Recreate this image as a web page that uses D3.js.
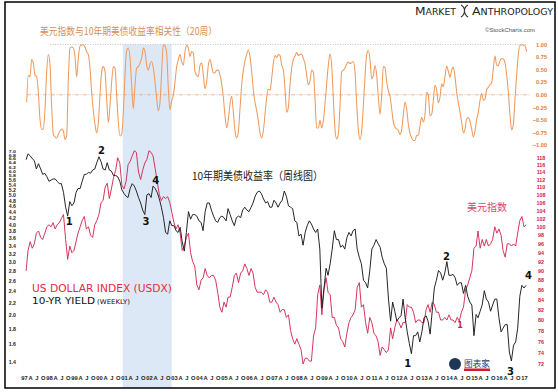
<!DOCTYPE html>
<html><head><meta charset="utf-8">
<script src="https://cdn.jsdelivr.net/npm/d3@7"></script>
<style>body{margin:0;background:#fff}svg{display:block}</style>
</head><body><svg id="c" width="558" height="392"></svg>
<script>
// ---------- DATA ----------
// 20-week correlation (USDX vs 10-yr yield), evenly spaced samples
const corrStart = "1997-02-09";
const corrStepDays = 24.35;
const corrValues = [
 -0.15,0.39,0.36,0.70,0.63,0.39,0.36,0.05,-0.49,-0.69,
 -0.68,-0.28,0.46,0.80,0.59,-0.22,-0.79,-0.84,-0.86,-0.79,
 -0.72,-0.68,-0.72,-0.89,-0.82,0.32,0.93,0.95,0.93,0.76,
 0.36,0.73,0.97,0.99,0.99,0.95,0.85,0.80,0.53,0.05,
 -0.32,-0.59,-0.76,-0.55,-0.01,0.46,0.56,0.46,-0.08,-0.55,
 -0.22,0.26,0.56,0.53,-0.01,-0.55,-0.82,-0.79,-0.35,0.39,
 0.88,0.93,0.73,0.19,-0.28,0.19,0.53,0.56,0.63,0.73,
 0.93,0.86,0.59,0.49,0.61,0.66,0.53,0.26,-0.08,-0.32,
 -0.15,0.46,1.00,0.97,0.83,0.12,-0.30,-0.11,-0.01,0.26,
 0.56,0.70,0.80,0.66,0.59,0.86,0.99,0.93,0.76,0.86,
 0.83,0.46,0.39,0.36,0.59,0.63,0.39,0.12,0.26,0.59,
 0.70,0.56,0.43,0.44,0.49,0.49,0.39,0.22,-0.05,-0.42,
 -0.66,-0.49,-0.18,-0.03,-0.35,-0.72,-0.86,-0.74,-0.28,0.19,
 0.49,0.68,0.81,0.89,0.76,0.46,0.09,-0.15,-0.32,-0.52,
 -0.76,-0.86,-0.72,-0.39,-0.05,0.11,0.09,0.32,0.63,0.78,
 0.74,0.80,0.78,0.59,0.49,0.12,-0.35,-0.25,0.19,0.53,
 0.70,0.77,0.84,0.78,0.80,0.81,0.72,0.62,0.39,0.20,
 0.27,0.49,0.46,-0.08,-0.66,-0.66,-0.51,-0.66,-0.52,-0.18,
 0.22,0.59,0.81,0.59,-0.08,-0.69,-0.88,-0.79,-0.22,0.46,
 0.49,0.53,0.61,0.65,0.62,0.64,0.66,0.46,-0.18,-0.69,
 -0.89,-0.72,-0.22,0.36,0.80,0.88,0.70,0.32,0.39,0.58,
 0.39,-0.05,-0.39,-0.01,0.56,0.54,0.26,0.08,-0.03,-0.28,
 -0.55,-0.64,-0.68,-0.71,-0.79,-0.70,-0.39,-0.15,-0.28,-0.59,
 -0.77,-0.86,-0.91,-0.91,-0.81,-0.80,-0.62,-0.45,-0.54,-0.39,
 0.05,-0.01,-0.42,-0.39,-0.12,0.19,0.09,-0.16,-0.05,0.22,
 0.16,0.36,0.57,0.47,0.35,0.49,0.55,0.36,0.05,-0.16,
 -0.34,-0.54,-0.76,-0.69,-0.47,-0.46,-0.53,-0.68,-0.84,-0.72,
 -0.49,-0.34,-0.12,0.03,-0.11,-0.09,0.11,0.15,0.20,0.24,
 0.53,0.77,0.59,0.58,0.68,0.72,0.71,0.64,0.39,0.05,
 -0.41,-0.70,-0.59,-0.08,0.39,0.80,0.99,0.99,0.99,0.97,
 0.86
];

// Monthly series, Feb 1997 .. Feb 2017
const monthlyStart = "1997-02-01";
const yieldValues = [
 6.55,6.85,6.75,6.60,6.50,6.10,6.35,6.10,5.85,5.90,5.75,
 5.55,5.60,5.65,5.65,5.55,5.45,5.45,5.10,4.55,4.25,4.75,4.60,
 4.70,5.10,5.25,5.25,5.55,5.85,5.85,5.95,5.90,6.05,6.10,6.40,
 6.70,6.45,6.10,6.05,6.40,6.05,6.00,5.80,5.80,5.75,5.55,5.20,
 5.05,4.95,4.90,5.25,5.45,5.35,5.15,4.90,4.70,4.45,4.30,5.00,
 5.05,4.90,5.35,5.25,5.10,4.85,4.55,4.20,3.75,3.70,4.10,3.95,
 3.95,3.80,3.75,3.90,3.50,3.25,3.75,4.40,4.15,4.30,4.30,4.25,
 4.10,4.05,3.80,4.40,4.70,4.70,4.45,4.25,4.10,4.05,4.20,4.25,
 4.20,4.10,4.50,4.30,4.10,3.95,4.20,4.25,4.20,4.45,4.55,4.45,
 4.40,4.55,4.70,4.95,5.10,5.15,5.05,4.85,4.70,4.75,4.55,4.55,
 4.80,4.70,4.55,4.70,4.80,5.15,4.95,4.60,4.55,4.50,4.10,4.05,
 3.65,3.70,3.40,3.75,3.95,4.10,4.00,3.85,3.75,3.85,3.30,2.10,
 2.45,2.85,2.70,2.95,3.30,3.80,3.55,3.55,3.35,3.40,3.30,3.60,
 3.75,3.65,3.80,3.85,3.30,3.10,2.95,2.60,2.55,2.45,2.80,3.30,
 3.40,3.55,3.45,3.35,3.10,2.95,2.85,2.25,1.90,2.20,2.05,1.90,
 1.95,1.98,2.25,1.95,1.75,1.60,1.48,1.70,1.70,1.75,1.62,1.75,
 1.95,1.98,1.90,1.72,2.05,2.45,2.60,2.80,2.75,2.60,2.75,3.00,
 2.70,2.70,2.72,2.65,2.50,2.55,2.55,2.35,2.50,2.30,2.20,2.15,
 1.70,2.00,1.95,2.05,2.15,2.40,2.25,2.20,2.05,2.15,2.25,2.25,
 1.95,1.75,1.80,1.85,1.85,1.50,1.40,1.58,1.62,1.80,2.30,2.50,
 2.45,2.50
];
const dxyValues = [
 90.0,94.5,96.5,95.0,96.0,98.5,99.0,97.5,97.0,98.5,100.0,
 100.5,100.0,101.0,99.5,100.5,101.0,102.0,103.0,97.0,92.5,95.5,94.0,
 94.5,96.5,98.5,100.0,101.5,102.5,99.5,100.0,98.0,97.5,100.5,101.5,
 103.0,106.0,106.5,110.0,111.0,107.0,109.5,112.5,114.5,118.0,116.5,110.5,
 109.5,111.5,116.0,117.0,118.5,120.0,119.5,114.0,112.0,114.5,116.5,117.5,
 120.0,119.5,118.5,115.0,111.5,108.0,106.5,107.5,107.0,107.5,106.0,103.5,
 101.0,99.5,100.5,98.5,94.5,95.5,97.5,98.5,94.0,92.0,91.0,87.0,
 86.0,88.0,88.5,90.5,89.0,88.5,89.0,89.0,88.0,85.5,82.5,81.5,
 83.5,82.5,84.5,84.5,86.5,89.0,89.5,87.5,89.5,90.0,91.5,90.5,
 89.0,90.5,89.5,86.5,85.5,85.5,85.5,85.0,86.0,85.5,83.5,83.5,
 84.5,83.5,83.0,81.5,82.0,82.0,80.5,81.0,78.0,76.5,75.5,76.5,
 75.5,74.5,72.0,73.0,73.0,72.5,72.5,77.0,78.5,85.0,87.0,81.0,
 86.0,88.5,85.5,85.0,80.5,80.5,79.0,78.5,76.5,76.0,75.0,77.5,
 79.5,80.5,81.0,82.0,86.5,87.5,82.5,83.0,79.5,77.5,80.5,79.5,
 77.5,77.0,76.0,73.5,75.0,74.5,74.0,74.5,78.5,76.5,78.5,80.0,
 79.5,78.5,79.5,79.5,83.0,82.5,82.5,81.5,79.5,80.0,80.0,79.5,
 79.5,82.0,83.0,81.5,83.5,83.0,81.5,81.5,80.0,80.0,80.5,80.0,
 81.0,80.0,80.0,79.5,80.5,79.8,81.5,82.5,86.0,87.0,88.5,90.0,
 95.0,95.5,99.0,95.0,97.0,95.5,97.0,95.5,96.0,97.0,100.0,98.5,
 99.5,98.0,94.5,93.0,96.0,96.0,95.5,96.0,95.5,98.5,101.5,102.5,
 100.0,100.5
];

const corrTicks = [1.00,0.75,0.50,0.25,0.00,-0.25,-0.50,-0.75,-1.00];
const yieldTicks = [7.0,6.8,6.6,6.4,6.2,6.0,5.8,5.6,5.4,5.2,5.0,4.8,4.6,4.4,4.2,4.0,3.8,3.6,3.4,3.2,3.0,2.8,2.6,2.4,2.2,2.0,1.8,1.6,1.4];
const dxyTicks = [118,116,114,112,110,108,106,104,102,100,98,96,94,92,90,88,86,84,82,80,78,76,74,72];
const shadeRange = ["2000-12-15","2002-11-28"];
const waveLabels = [
 {date:"1998-10-23", value:4.08, text:"1"},
 {date:"2000-02-06", value:7.05, text:"2"},
 {date:"2001-11-17", value:4.09, text:"3"},
 {date:"2002-04-08", value:5.59, text:"4"},
 {date:"2012-05-08", value:1.37, text:"1"},
 {date:"2013-11-24", value:3.12, text:"2"},
 {date:"2016-06-17", value:1.297, text:"3"},
 {date:"2017-03-07", value:2.70, text:"4"}
];
const dxyWaveLabels = [{date:"2014-06-10", value:79.06, text:"1"}];

// ---------- CHART ----------
const svg = d3.select("#c");
const W = 558, H = 392;
const parse = d3.timeParse("%Y-%m-%d");
const x = d3.scaleTime().domain([parse("1997-01-01"), parse("2017-01-01")]).range([24, 524]);
const yCorr = d3.scaleLinear().domain([-1, 1]).range([145, 44.5]);
const yYield = d3.scaleLog().domain([1.4, 7.0]).range([361, 151]);
const yDxy = d3.scaleLog().domain([72, 118]).range([364, 157.7]);

const corrData = corrValues.map((v, i) => ({d: new Date(parse(corrStart).getTime() + i * corrStepDays * 864e5), v}));
const m0 = parse(monthlyStart);
const yieldData = yieldValues.map((v, i) => ({d: d3.timeMonth.offset(m0, i), v}));
const dxyData = dxyValues.map((v, i) => ({d: d3.timeMonth.offset(m0, i), v}));

svg.append("rect").attr("width", W).attr("height", H).attr("fill", "#fff");

// shaded period
svg.append("rect")
  .attr("x", x(parse(shadeRange[0]))).attr("y", 44.5)
  .attr("width", x(parse(shadeRange[1])) - x(parse(shadeRange[0])))
  .attr("height", 388 - 44.5)
  .attr("fill", "#dde8f6");

// top panel reference lines
svg.append("line").attr("x1", 50).attr("x2", 527).attr("y1", yCorr(1)).attr("y2", yCorr(1))
  .attr("stroke", "#b0b0b0").attr("stroke-width", 0.7).attr("stroke-dasharray", "1,1.5");
svg.append("line").attr("x1", 27).attr("x2", 530).attr("y1", yCorr(0)).attr("y2", yCorr(0))
  .attr("stroke", "#ec9a62").attr("stroke-width", 0.7).attr("stroke-dasharray", "4,1.5,1,1.5");

// correlation line
svg.append("path").datum(corrData)
  .attr("d", d3.line().x(d => x(d.d)).y(d => yCorr(d.v)).curve(d3.curveMonotoneX))
  .attr("fill", "none").attr("stroke", "#f09a5c").attr("stroke-width", 1.05);

// dollar index
svg.append("path").datum(dxyData)
  .attr("d", d3.line().x(d => x(d.d)).y(d => yDxy(d.v)))
  .attr("fill", "none").attr("stroke", "#d42a55").attr("stroke-width", 0.95);
// yield
svg.append("path").datum(yieldData)
  .attr("d", d3.line().x(d => x(d.d)).y(d => yYield(d.v)))
  .attr("fill", "none").attr("stroke", "#1a1a1a").attr("stroke-width", 0.95);

// axes
const fontAx = "'Liberation Sans', Arial, sans-serif";
function styleAxis(g, color, size) {
  g.select(".domain").remove();
  g.selectAll(".tick line").remove();
  g.selectAll("text").attr("fill", color).attr("font-size", size)
    .attr("font-family", fontAx).attr("font-weight", "bold");
}
const gCorr = svg.append("g").attr("transform", "translate(547,0)")
  .call(d3.axisLeft(yCorr).tickValues(corrTicks).tickFormat(d3.format(".2f")).tickSize(0).tickPadding(0));
styleAxis(gCorr, "#e07b3c", 5.6);
gCorr.selectAll("text").attr("text-anchor", "end").attr("x", 0);

const gY = svg.append("g").attr("transform", "translate(16,0)")
  .call(d3.axisLeft(yYield).tickValues(yieldTicks).tickFormat(d3.format(".1f")).tickSize(0).tickPadding(0));
styleAxis(gY, "#222", 5.2);
// labels are squeezed vertically where the log scale packs them together
gY.selectAll(".tick text").each(function(d, i) {
  const nb = i < yieldTicks.length - 1 ? yieldTicks[i + 1] : yieldTicks[i - 1];
  const gap = Math.abs(yYield(d) - yYield(nb));
  const k = Math.min(1, (gap - 0.2) / 5.2);
  d3.select(this).attr("y", 0).attr("dy", null).attr("transform", `scale(1,${k})`)
    .attr("dominant-baseline", "central");
});

const gD = svg.append("g").attr("transform", "translate(541,0)")
  .call(d3.axisRight(yDxy).tickValues(dxyTicks).tickFormat(d3.format("d")).tickSize(0).tickPadding(0));
styleAxis(gD, "#d0203c", 5.4);
gD.selectAll("text").attr("text-anchor", "middle").attr("x", 0);

const qTicks = d3.timeMonth.every(3).range(parse("1997-01-01"), parse("2017-01-02"));
const qFmt = d => { const m = d.getMonth(); return m === 0 ? d3.timeFormat("%y")(d) : (m === 3 ? "A" : m === 6 ? "J" : "O"); };
const gX = svg.append("g").attr("transform", "translate(0,376)")
  .call(d3.axisBottom(x).tickValues(qTicks).tickFormat(qFmt).tickSize(0).tickPadding(0));
styleAxis(gX, "#222", 5.8);
gX.selectAll("text").attr("dy", "0.71em");

// wave labels
svg.append("g").selectAll("text").data(waveLabels).join("text")
  .attr("x", d => x(parse(d.date))).attr("y", d => yYield(d.value))
  .attr("dy", "0.36em").attr("text-anchor", "middle")
  .attr("font-family", "'DejaVu Sans', sans-serif").attr("font-weight", "bold")
  .attr("font-size", 10).attr("fill", "#111").text(d => d.text);
svg.append("g").selectAll("text").data(dxyWaveLabels).join("text")
  .attr("x", d => x(parse(d.date))).attr("y", d => yDxy(d.value))
  .attr("dy", "0.36em").attr("text-anchor", "middle")
  .attr("font-family", "'DejaVu Sans', sans-serif").attr("font-weight", "bold")
  .attr("font-size", 8).attr("fill", "#d0203c").text(d => d.text);

// texts
const cjk = "'Noto Sans CJK SC', sans-serif";
svg.append("text").attr("x", 40).attr("y", 34.5).attr("font-family", cjk).attr("font-size", 10)
  .attr("fill", "#d98e58").attr("textLength", 177).attr("lengthAdjust", "spacingAndGlyphs")
  .text("美元指数与10年期美债收益率相关性（20周）");
svg.append("text").attr("x", 192).attr("y", 180).attr("font-family", cjk).attr("font-size", 11)
  .attr("fill", "#222").attr("textLength", 131).attr("lengthAdjust", "spacingAndGlyphs")
  .text("10年期美债收益率（周线图）");
svg.append("text").attr("x", 467).attr("y", 211).attr("font-family", cjk).attr("font-size", 10)
  .attr("fill", "#d4486a").attr("textLength", 40).attr("lengthAdjust", "spacingAndGlyphs")
  .text("美元指数");
svg.append("text").attr("x", 32).attr("y", 292).attr("font-family", "'DejaVu Sans', sans-serif").attr("font-size", 10.5)
  .attr("fill", "#e8283c").attr("textLength", 140).attr("lengthAdjust", "spacingAndGlyphs")
  .text("US DOLLAR INDEX (USDX)");
svg.append("text").attr("x", 32).attr("y", 303.5).attr("font-family", "'DejaVu Sans', sans-serif").attr("font-size", 9.3)
  .attr("fill", "#111").attr("textLength", 63).attr("lengthAdjust", "spacingAndGlyphs")
  .text("10-YR YIELD");
svg.append("text").attr("x", 97).attr("y", 303.5).attr("font-family", "'DejaVu Sans', sans-serif").attr("font-size", 6.5)
  .attr("fill", "#111").attr("textLength", 33).attr("lengthAdjust", "spacingAndGlyphs")
  .text("(WEEKLY)");
svg.append("text").attr("x", 485).attr("y", 32).attr("font-family", fontAx).attr("font-size", 5.5)
  .attr("fill", "#555").attr("textLength", 50).attr("lengthAdjust", "spacingAndGlyphs")
  .text("©StockCharts.com");

// brand
const brand = svg.append("g").attr("font-family", "'DejaVu Sans', sans-serif").attr("fill", "#222");
brand.append("text").attr("x", 415).attr("y", 15).attr("textLength", 41).attr("lengthAdjust", "spacingAndGlyphs")
  .html('<tspan font-size="10.5">M</tspan><tspan font-size="8">ARKET</tspan>');
brand.append("text").attr("x", 472).attr("y", 15).attr("textLength", 81).attr("lengthAdjust", "spacingAndGlyphs")
  .html('<tspan font-size="10.5">A</tspan><tspan font-size="8">NTHROPOLOGY</tspan>');
brand.append("path").attr("d", "M461,5 C468,9 461,12 468,17 M468,5 C461,9 468,12 461,17")
  .attr("fill", "none").attr("stroke", "#333").attr("stroke-width", 1.1);

// bottom logo
const logo = svg.append("g");
logo.append("circle").attr("cx", 455).attr("cy", 364).attr("r", 6).attr("fill", "#1d3557");
logo.append("text").attr("x", 464).attr("y", 367).attr("font-family", cjk).attr("font-size", 9)
  .attr("fill", "#24406e").attr("textLength", 26).attr("lengthAdjust", "spacingAndGlyphs").text("图表家");
logo.append("rect").attr("x", 464).attr("y", 368.5).attr("width", 26).attr("height", 2.5).attr("fill", "#c8202c");

// frame
svg.append("rect").attr("x", 5).attr("y", 2).attr("width", 550).attr("height", 386)
  .attr("fill", "none").attr("stroke", "#000").attr("stroke-width", 1.5);
</script></body></html>
